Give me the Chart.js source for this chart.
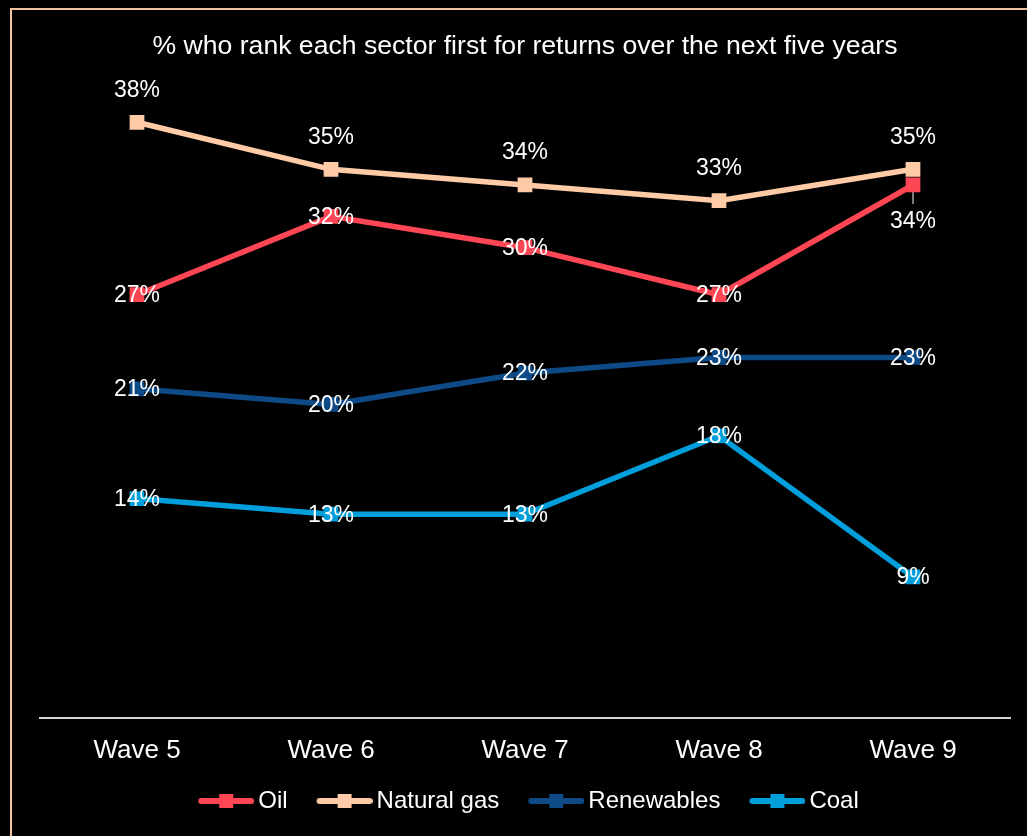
<!DOCTYPE html>
<html>
<head>
<meta charset="UTF-8">
<title>sector returns</title>
<style>
html, body {
	margin: 0;
	padding: 0;
	background-color: #000;
	overflow: hidden;
}
.frame {
	position: absolute;
	left: 10px;
	top: 8px;
	width: 1100px;
	height: 900px;
	border: 2px solid #f2c29c;
}
#wrap {
	position: absolute;
	left: 0;
	top: 0;
	width: 1027px;
	height: 836px;
}
</style>
</head>
<body>
<div class="frame"></div>
<div id="wrap"><canvas id="myChart"></canvas></div>

<script src="https://cdn.jsdelivr.net/npm/chart.js@4.4.0/dist/chart.umd.min.js"></script>
<script>
// waves on the x axis
const waves = ['Wave 5', 'Wave 6', 'Wave 7', 'Wave 8', 'Wave 9'];

// % ranking each sector first
const oil = [27, 32, 30, 27, 34];
const naturalGas = [38, 35, 34, 33, 35];
const renewables = [21, 20, 22, 23, 23];
const coal = [14, 13, 13, 18, 9];

const seriesNames = ['Oil', 'Natural gas', 'Renewables', 'Coal'];
const seriesColors = ['#ff4654', '#ffcba6', '#0e4a86', '#009fdb'];

const FONT = "'Liberation Sans', Arial, sans-serif";

// line + square legend symbol; the canvas is padded on the left so the
// symbol lands a little right of the legend box centre
function legendIcon(color){
	const c = document.createElement('canvas');
	c.width = 71; c.height = 16;
	const g = c.getContext('2d');
	g.strokeStyle = color;
	g.lineWidth = 6;
	g.lineCap = 'round';
	g.beginPath();
	g.moveTo(18, 8); g.lineTo(68, 8);
	g.stroke();
	g.fillStyle = color;
	g.fillRect(36, 1, 14, 14);
	return c;
}
const icons = seriesColors.map(legendIcon);

// value labels: gas above its points, the rest centred on them
// (oil wave 9 sits under the point with a small leader)
const valueLabels = {
	id: 'valueLabels',
	beforeDatasetsDraw(chart){
		const ctx = chart.ctx;
		const p = chart.getDatasetMeta(0).data[4];
		ctx.save();
		ctx.strokeStyle = '#a6a6a6';
		ctx.lineWidth = 1.5;
		ctx.beginPath();
		ctx.moveTo(p.x, p.y);
		ctx.lineTo(p.x, p.y + 19);
		ctx.stroke();
		ctx.restore();
	},
	afterDatasetsDraw(chart){
		const ctx = chart.ctx;
		ctx.save();
		ctx.font = '23px ' + FONT;
		ctx.fillStyle = '#ffffff';
		ctx.textAlign = 'center';
		ctx.textBaseline = 'middle';
		chart.data.datasets.forEach(function(ds, di){
			const meta = chart.getDatasetMeta(di);
			meta.data.forEach(function(pt, i){
				let dy = 1;
				if(di == 1) dy = -32;
				if(di == 0 && i == 4) dy = 37;
				ctx.fillText(ds.data[i] + '%', pt.x, pt.y + dy);
			});
		});
		ctx.restore();
	}
};

function series(label, data, color){
	return {
		label: label,
		data: data,
		borderColor: color,
		backgroundColor: color,
		borderWidth: 5.5,
		pointStyle: 'rect',
		pointRadius: 9,
		pointBorderWidth: 2,
		pointBorderColor: color,
		pointBackgroundColor: color,
		tension: 0
	};
}

const ctx = document.getElementById('myChart');
new Chart(ctx, {
	type: 'line',
	data: {
		labels: waves,
		datasets: [
			series(seriesNames[0], oil, seriesColors[0]),
			series(seriesNames[1], naturalGas, seriesColors[1]),
			series(seriesNames[2], renewables, seriesColors[2]),
			series(seriesNames[3], coal, seriesColors[3])
		]
	},
	options: {
		responsive: true,
		maintainAspectRatio: false,
		animation: false,
		layout: { padding: { left: 40, right: 17, top: 12, bottom: 13 } },
		scales: {
			x: {
				offset: true,
				grid: { display: false, drawTicks: false },
				border: { display: true, color: '#d4d4d4', width: 2 },
				ticks: { color: '#ffffff', font: { family: FONT, size: 26 }, padding: 17 },
				afterFit(s){ s.height = 49; }
			},
			y: {
				display: false,
				min: 0,
				max: 40
			}
		},
		plugins: {
			title: {
				display: true,
				text: '% who rank each sector first for returns over the next five years',
				color: '#ffffff',
				font: { family: FONT, size: 26.6, weight: 'normal' },
				padding: { top: 19, bottom: 28 }
			},
			legend: {
				position: 'bottom',
				labels: {
					color: '#ffffff',
					font: { family: FONT, size: 24 },
					usePointStyle: true,
					pointStyleWidth: 55,
					padding: 22,
					generateLabels(chart){
						const items = Chart.defaults.plugins.legend.labels.generateLabels(chart);
						items.forEach(function(it, i){ it.pointStyle = icons[i]; });
						return items;
					}
				}
			},
			tooltip: { enabled: false }
		}
	},
	plugins: [valueLabels]
});
</script>
</body>
</html>
